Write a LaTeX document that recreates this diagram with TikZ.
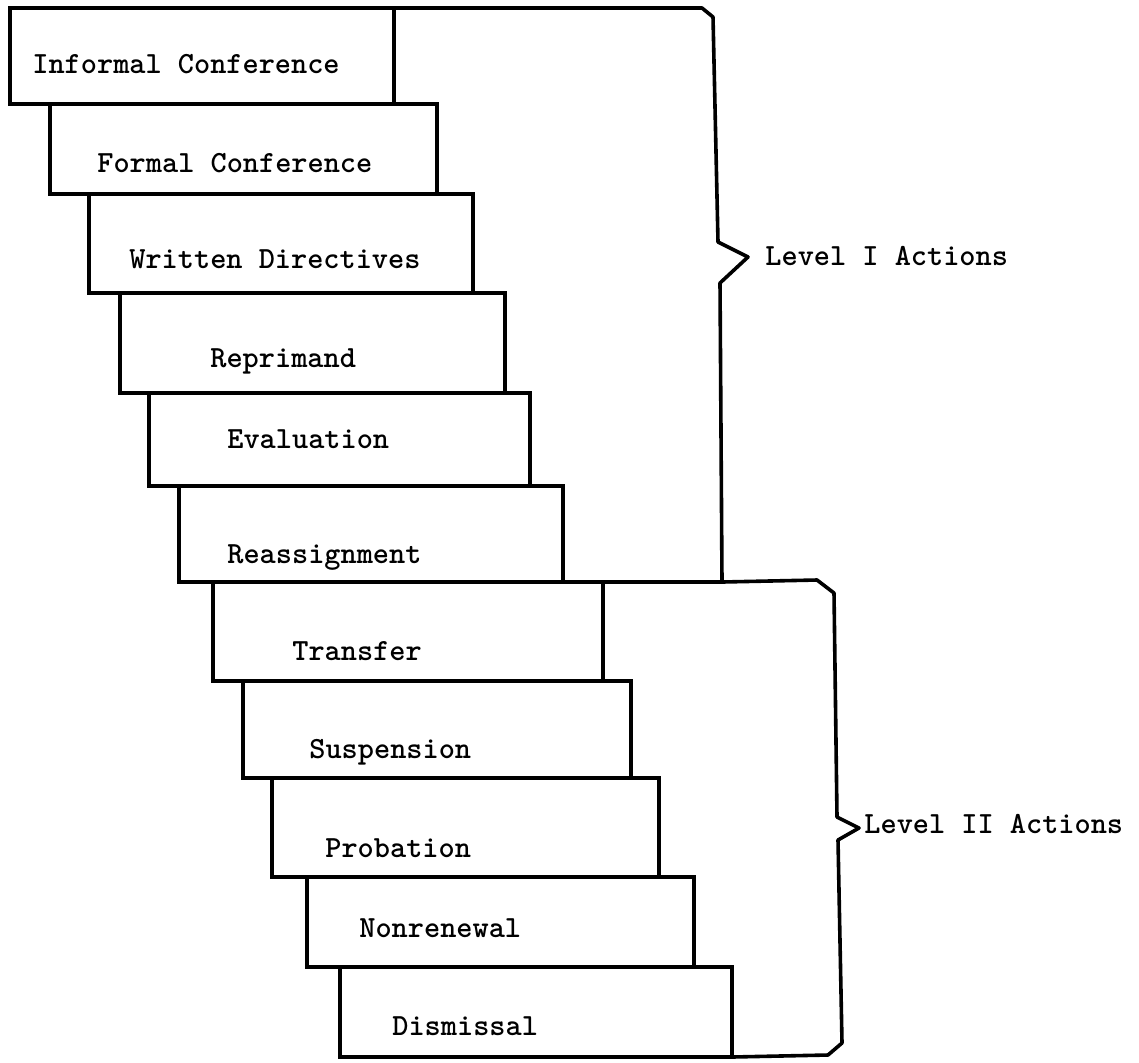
\documentclass[tikz,border=0pt]{standalone}
\begin{document}
\begin{tikzpicture}[x=0.5pt,y=-0.5pt,
  stair/.style={draw, line width=1.8pt, rectangle, inner sep=0pt, outer sep=0pt, anchor=north west},
  steptext/.style={anchor=base west, inner sep=0pt, font=\fontsize{15.4}{18}\selectfont\ttfamily\bfseries},
  bracket/.style={draw, line width=1.8pt, line join=round}]
\useasboundingbox (0,0) rectangle (1139,1062);

% staircase of disciplinary steps: name/left/top/right/bottom
\foreach \n/\l/\t/\r/\b in {1/10/8/394/104, 2/50/104/437/194, 3/89/194/473/293,
    4/120/293/505/393, 5/149/393/530/486, 6/179/486/563/582, 7/213/582/603/681,
    8/243/681/631/778, 9/272/778/659/877, 10/307/877/694/967, 11/340/967/732/1057}
  \node[stair, minimum width={(\r-\l)*0.5pt}, minimum height={(\b-\t)*0.5pt}] (b\n) at (\l,\t) {};

% step captions
\node[steptext] (t1)  at (32,73)   {Informal Conference};
\node[steptext] (t2)  at (97,172)  {Formal Conference};
\node[steptext] (t3)  at (129,268) {Written Directives};
\node[steptext] (t4)  at (210,367) {Reprimand};
\node[steptext] (t5)  at (227,448) {Evaluation};
\node[steptext] (t6)  at (227,563) {Reassignment};
\node[steptext] (t7)  at (292,660) {Transfer};
\node[steptext] (t8)  at (309,758) {Suspension};
\node[steptext] (t9)  at (325,857) {Probation};
\node[steptext] (t10) at (359,937) {Nonrenewal};
\node[steptext] (t11) at (392,1035) {Dismissal};

% group brackets
\coordinate (lvIend) at (722,582);
\draw[bracket] (b1.north east) -- (702,8) -- (713,17) -- (718,242) -- (748,257)
  -- (720,283) -- (lvIend);
\draw[bracket] (b6.south east) -- (lvIend) -- (817,580) -- (834,593) -- (837,817)
  -- (859,828) -- (838,840) -- (842,1043) -- (828,1055) -- (b11.south east);

\node[steptext] (lv1) at (765,265) {Level I Actions};
\node[steptext] (lv2) at (864,833) {Level II Actions};
\end{tikzpicture}
\end{document}
